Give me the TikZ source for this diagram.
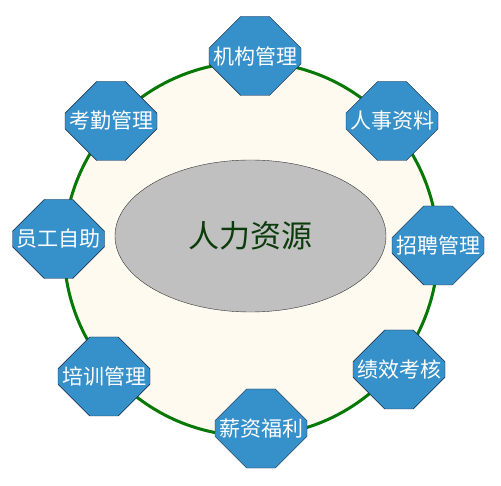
\documentclass[tikz,border=0pt]{standalone}
\usepackage{fontspec}
\setmainfont{Noto Sans CJK SC}
\usepackage{tikz}
\usetikzlibrary{shapes.geometric}
\usetikzlibrary{shapes.misc}
\definecolor{octblue}{RGB}{54,144,201}
\definecolor{octline}{RGB}{25,35,60}
\definecolor{ringgreen}{RGB}{5,120,5}
\definecolor{cream}{RGB}{255,250,240}
\definecolor{coregray}{RGB}{192,192,192}
\definecolor{coretext}{RGB}{12,60,12}
% keep the label box narrow so the octagon keeps its own width
\newcommand{\octlabel}[1]{\makebox[66pt]{#1}}

\begin{document}
\begin{tikzpicture}[x=1pt,y=-1pt,
            main node/.style={chamfered rectangle,chamfered rectangle sep=22pt,draw=octline,fill=octblue,text=white,inner sep=0pt,minimum width=92pt,minimum height=79pt,font=\fontsize{21}{21}\selectfont},
            ]
            \useasboundingbox (0,0) rectangle (501,486);

            \node[circle, draw=ringgreen, line width=3pt, fill=cream, minimum size=374pt, inner sep=0pt] (ring) at (251,249) {};
            \node[ellipse, draw=black!80, fill=coregray, minimum width=271pt, minimum height=152pt, inner sep=0pt, text=coretext, font=\fontsize{31}{31}\selectfont] (hr) at (250.5,236) {人力资源};

            \node[main node] (1) at (255,56) {\octlabel{机构管理}};
            \node[main node] (2) at (392,121) {\octlabel{人事资料}};
            \node[main node] (3) at (438,245.5) {\octlabel{招聘管理}};
            \node[main node] (4) at (399,369.5) {\octlabel{绩效考核}};
            \node[main node] (5) at (261,428.5) {\octlabel{薪资福利}};
            \node[main node] (6) at (104,376.5) {\octlabel{培训管理}};
            \node[main node] (7) at (58.5,239) {\octlabel{员工自助}};
            \node[main node] (8) at (111,121) {\octlabel{考勤管理}};
        \end{tikzpicture}
\end{document}
